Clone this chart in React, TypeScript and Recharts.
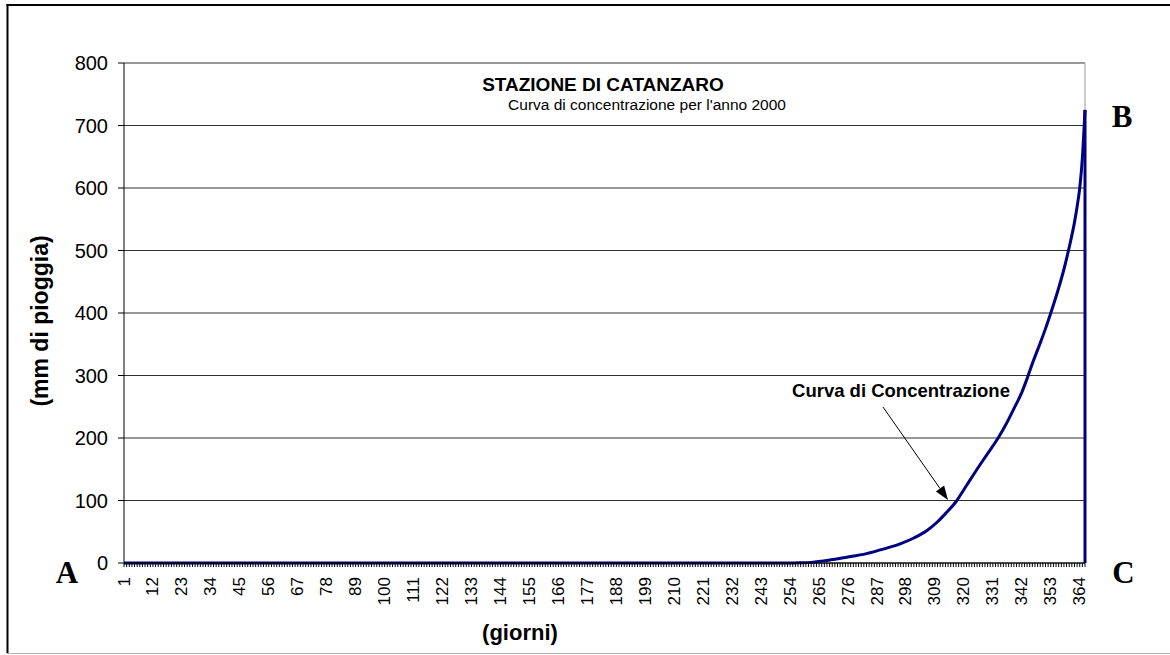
import React from "react";
import { LineChart, Line, XAxis, YAxis, CartesianGrid, ReferenceLine } from "recharts";

// Days (x) and cumulative rainfall (mm)
const days = [1, 255, 258, 262, 266, 270, 276, 283, 290, 296, 301, 306, 310, 313, 317, 321, 325, 329, 333, 336, 339, 342, 344, 346, 349, 351, 353, 356, 358, 360, 362, 363, 364, 365, 366];
const mm = [0, 0, 0.3, 1, 3, 5.5, 9.5, 15, 23, 31, 40, 52, 66, 79, 98, 124, 150, 175, 200, 222, 247, 273, 295, 319, 352, 375, 400, 440, 470, 505, 545, 570, 600, 648, 725];

const yTicks = [0, 100, 200, 300, 400, 500, 600, 700, 800];
const xTickLabels = [1, 12, 23, 34, 45, 56, 67, 78, 89, 100, 111, 122, 133, 144, 155, 166, 177, 188, 199, 210, 221, 232, 243, 254, 265, 276, 287, 298, 309, 320, 331, 342, 353, 364];
const totalDays = 366;

const title = "STAZIONE DI CATANZARO";
const subtitle = "Curva di concentrazione per l'anno 2000";
const yTitle = "(mm di pioggia)";
const xTitle = "(giorni)";
const curveName = "Curva di Concentrazione";

const curveData = days.map((d, i) => ({ x: d, y: mm[i] }));
const lastDay = days[days.length - 1];
const peak = mm[mm.length - 1];
const dropData = [{ x: lastDay, y: peak }, { x: lastDay, y: 0 }];
const allDayTicks = Array.from({ length: totalDays }, (_, i) => i + 1);
const labelSet = new Set(xTickLabels);

const FONT = "'Liberation Sans', Arial, sans-serif";
const SERIF = "'Liberation Serif', 'Times New Roman', serif";

const XTick = (props: any) => {
  const { x, y, payload } = props;
  if (!labelSet.has(payload.value)) return <g />;
  return (
    <text
      x={x}
      y={y}
      transform={`rotate(-90, ${x}, ${y})`}
      textAnchor="end"
      dominantBaseline="central"
      fontFamily={FONT}
      fontSize={17}
      fill="#000"
    >
      {payload.value}
    </text>
  );
};

export default function App() {
  return (
    <div style={{ position: "absolute", left: 0, top: 0, width: 1170, height: 655, background: "#fff" }}>
      <LineChart
        width={1170}
        height={655}
        data={curveData}
        margin={{ top: 63, right: 85, bottom: 32, left: 64 }}
      >
        <CartesianGrid horizontal={true} vertical={false} stroke="#303030" strokeWidth={1} />
        <XAxis
          dataKey="x"
          type="number"
          domain={[1, totalDays]}
          ticks={allDayTicks}
          interval={0}
          height={60}
          tickSize={4}
          tickMargin={10}
          tick={<XTick />}
          axisLine={{ stroke: "#000", strokeWidth: 1 }}
          tickLine={{ stroke: "#000", strokeWidth: 1 }}
        />
        <YAxis
          type="number"
          domain={[0, 800]}
          ticks={yTicks}
          interval={0}
          width={60}
          tickSize={6}
          tickMargin={10}
          tick={{ fontFamily: FONT, fontSize: 20, fill: "#000" }}
          axisLine={{ stroke: "#000", strokeWidth: 1 }}
          tickLine={{ stroke: "#000", strokeWidth: 1 }}
        />
        <ReferenceLine y={800} stroke="#999" strokeWidth={1} />
        <ReferenceLine x={totalDays} stroke="#999" strokeWidth={1} />
        <Line
          type="monotone"
          dataKey="y"
          stroke="#000080"
          strokeWidth={3}
          dot={false}
          isAnimationActive={false}
        />
        <Line
          data={dropData}
          type="linear"
          dataKey="y"
          stroke="#000080"
          strokeWidth={3}
          dot={false}
          isAnimationActive={false}
        />
      </LineChart>
      <svg
        width={1170}
        height={655}
        style={{ position: "absolute", left: 0, top: 0, pointerEvents: "none" }}
      >
        <line x1={7.5} y1={4} x2={7.5} y2={653} stroke="#000" strokeWidth={2} />
        <line x1={6.5} y1={5} x2={1170} y2={5} stroke="#000" strokeWidth={2} />
        <line x1={6.5} y1={653.5} x2={1170} y2={653.5} stroke="#b0b0b0" strokeWidth={1} />
        <text x={603} y={91} textAnchor="middle" fontFamily={FONT} fontWeight="bold" fontSize={19} fill="#000">
          {title}
        </text>
        <text x={647} y={110} textAnchor="middle" fontFamily={FONT} fontSize={15.5} fill="#000">
          {subtitle}
        </text>
        <text
          x={40}
          y={321}
          transform="rotate(-90, 40, 321)"
          textAnchor="middle"
          dominantBaseline="central"
          fontFamily={FONT}
          fontWeight="bold"
          fontSize={23}
          fill="#000"
        >
          {yTitle}
        </text>
        <text x={520} y={640} textAnchor="middle" fontFamily={FONT} fontWeight="bold" fontSize={22} fill="#000">
          {xTitle}
        </text>
        <text x={901} y={397} textAnchor="middle" fontFamily={FONT} fontWeight="bold" fontSize={18.5} fill="#000">
          {curveName}
        </text>
        <line x1={883} y1={407} x2={940} y2={488.5} stroke="#000" strokeWidth={1} />
        <polygon points="948,500 944.1,485.6 935.9,491.4" fill="#000" />
        <text x={67} y={583} textAnchor="middle" fontFamily={SERIF} fontWeight="bold" fontSize={31} fill="#000">
          A
        </text>
        <text x={1122} y={127} textAnchor="middle" fontFamily={SERIF} fontWeight="bold" fontSize={31} fill="#000">
          B
        </text>
        <text x={1123.5} y={583} textAnchor="middle" fontFamily={SERIF} fontWeight="bold" fontSize={31} fill="#000">
          C
        </text>
      </svg>
    </div>
  );
}
